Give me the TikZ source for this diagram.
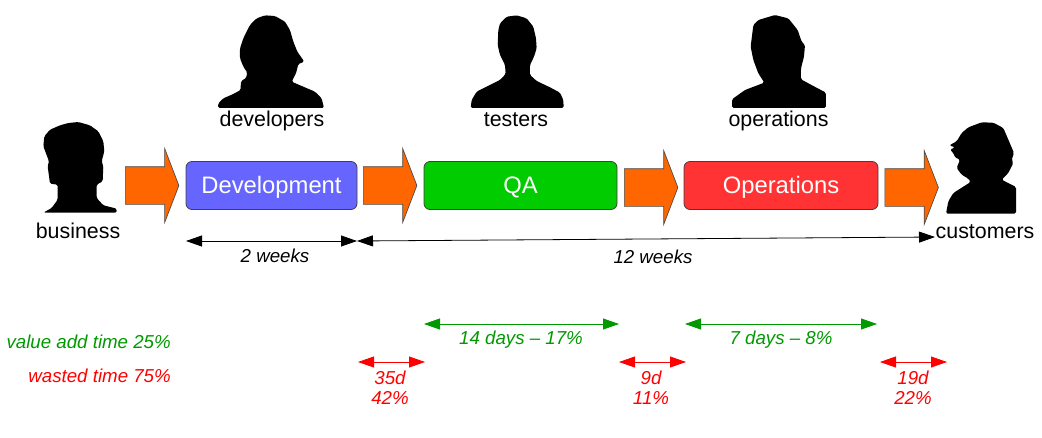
\documentclass[tikz,border=0pt]{standalone}
\usepackage{fontspec}
\setmainfont{Liberation Sans}
\usetikzlibrary{arrows.meta,shapes.arrows}
\definecolor{flow}{HTML}{FF6600}
\definecolor{devc}{HTML}{6666FF}
\definecolor{qac}{HTML}{00CC00}
\definecolor{opsc}{HTML}{FF3333}
\definecolor{vgreen}{HTML}{009900}
\tikzset{
  x=1pt,y=-1pt,
  stagebox/.style={draw=black!75,line width=0.8pt,rounded corners=6pt,text=white,inner sep=0pt,text height=17pt,text depth=2pt,font=\fontsize{23.8}{26}\selectfont},
  flowarrow/.style={single arrow,draw=black!70,line width=0.7pt,fill=flow,inner sep=0pt,minimum height=53.5pt,minimum width=73.5pt,single arrow head extend=18.2pt,single arrow tip angle=138,single arrow head indent=0pt},
  role/.style={inner sep=0pt,font=\fontsize{21.4}{24}\selectfont},
  span/.style={line width=0.8pt,{Triangle[length=16pt,width=11pt]}-{Triangle[length=16pt,width=11pt]}},
  note/.style={inner sep=0pt,align=center,font=\fontsize{18.7}{20.5}\selectfont\itshape},
  sil/.style={fill=black,draw=none,rounded corners=1.5pt},
  crop/.style={shift={(#1)},x=0.3333pt,y=-0.3333pt}
}
\begin{document}
\begin{tikzpicture}
\useasboundingbox (0,0) rectangle (1042,437);
% silhouettes
\begin{scope}[crop={210,10}]
\fill[sil] (24,294) -- (25,280) -- (40,265) -- (70,252) -- (92,240) -- (92,225) -- (94,212) -- (108,205) -- (112,188) -- (100,170) -- (90,145) -- (90,115) -- (100,85) -- (120,45) -- (140,25) -- (165,16) -- (195,18) -- (225,35) -- (240,60) -- (250,95) -- (262,125) -- (283,155) -- (265,162) -- (258,190) -- (245,215) -- (275,228) -- (315,245) -- (335,265) -- (342,294) -- cycle;
\end{scope}
\begin{scope}[crop={35,118}]
\fill[sil] (25,284) -- (50,270) -- (68,245) -- (68,200) -- (45,197) -- (38,145) -- (42,130) -- (25,85) -- (28,55) -- (45,35) -- (75,22) -- (100,15) -- (130,12) -- (165,22) -- (190,40) -- (205,70) -- (208,100) -- (200,130) -- (205,145) -- (203,190) -- (185,200) -- (185,240) -- (205,262) -- (245,272) -- (245,284) -- cycle;
\end{scope}
\begin{scope}[crop={465,10}]
\fill[sil] (17,294) -- (20,270) -- (35,245) -- (65,230) -- (105,210) -- (122,192) -- (120,165) -- (105,135) -- (98,105) -- (100,60) -- (105,40) -- (125,20) -- (155,16) -- (185,25) -- (205,50) -- (213,85) -- (215,115) -- (207,140) -- (195,165) -- (195,195) -- (215,213) -- (255,232) -- (285,248) -- (295,270) -- (296,294) -- cycle;
\end{scope}
\begin{scope}[crop={725,10}]
\fill[sil] (21,294) -- (21,268) -- (60,240) -- (118,218) -- (100,190) -- (85,150) -- (77,110) -- (85,45) -- (100,30) -- (150,15) -- (190,25) -- (218,60) -- (230,95) -- (240,105) -- (237,140) -- (228,175) -- (228,208) -- (265,228) -- (303,248) -- (303,294) -- cycle;
\end{scope}
\begin{scope}[crop={940,118}]
\fill[sil] (18,287) -- (25,250) -- (40,225) -- (92,192) -- (85,182) -- (65,170) -- (50,150) -- (60,125) -- (45,118) -- (40,105) -- (30,95) -- (45,88) -- (28,82) -- (50,70) -- (65,45) -- (85,28) -- (125,13) -- (160,14) -- (190,30) -- (205,65) -- (222,105) -- (215,125) -- (220,135) -- (205,165) -- (185,185) -- (228,207) -- (228,287) -- cycle;
\end{scope}
% stages
\node[stagebox,fill=devc,minimum width=171pt,minimum height=48pt] (dev) at (271.5,185.5) {Development};
\node[stagebox,fill=qac,minimum width=193pt,minimum height=48pt] (qa) at (520.5,185.5) {QA};
\node[stagebox,fill=opsc,minimum width=194pt,minimum height=48pt] (ops) at (781,185.5) {Operations};
% flow arrows
\node[flowarrow] (f1) at (148.5,185.5) {\rule{0pt}{37pt}};
\node[flowarrow] (f2) at (386.5,185.5) {\rule{0pt}{37pt}};
\node[flowarrow] (f3) at (647.5,187.5) {\rule{0pt}{37pt}};
\node[flowarrow] (f4) at (908,187.5) {\rule{0pt}{37pt}};
% role labels
\node[role] (ldev) at (272,121) {developers};
\node[role] (ltest) at (516,120) {testers};
\node[role] (lops) at (778.5,121) {operations};
\node[role] (lbus) at (78,231) {business};
\node[role] (lcust) at (985,232) {customers};
% time spans
\coordinate (a1) at (186,241); \coordinate (a2) at (357,241);
\coordinate (b1) at (357,241); \coordinate (b2) at (935,237);
\draw[span] (a1) -- (a2);
\draw[span] (b1) -- (b2);
\node[note] (t2w) at (275,255.5) {2 weeks};
\node[note] (t12w) at (653,256.5) {12 weeks};
% value add
\coordinate (g1) at (424,324); \coordinate (g2) at (619,324);
\coordinate (g3) at (685,324); \coordinate (g4) at (877,324);
\draw[span,vgreen] (g1) -- (g2);
\draw[span,vgreen] (g3) -- (g4);
\node[note,text=vgreen] (v1) at (521,340) {14 days -- 17\%};
\node[note,text=vgreen] (v2) at (781,340) {7 days -- 8\%};
% waste
\coordinate (r1) at (358,362); \coordinate (r2) at (425,362);
\coordinate (r3) at (619,362); \coordinate (r4) at (686,362);
\coordinate (r5) at (880,362); \coordinate (r6) at (947,362);
\draw[span,red] (r1) -- (r2);
\draw[span,red] (r3) -- (r4);
\draw[span,red] (r5) -- (r6);
\node[note,text=red] (w1) at (390,388) {35d\\42\%};
\node[note,text=red] (w2) at (651,388) {9d\\11\%};
\node[note,text=red] (w3) at (913,388) {19d\\22\%};
% legend
\node[note,text=vgreen,anchor=east] (lv) at (171,342) {value add time 25\%};
\node[note,text=red,anchor=east] (lw) at (171,376) {wasted time 75\%};
\end{tikzpicture}
\end{document}
